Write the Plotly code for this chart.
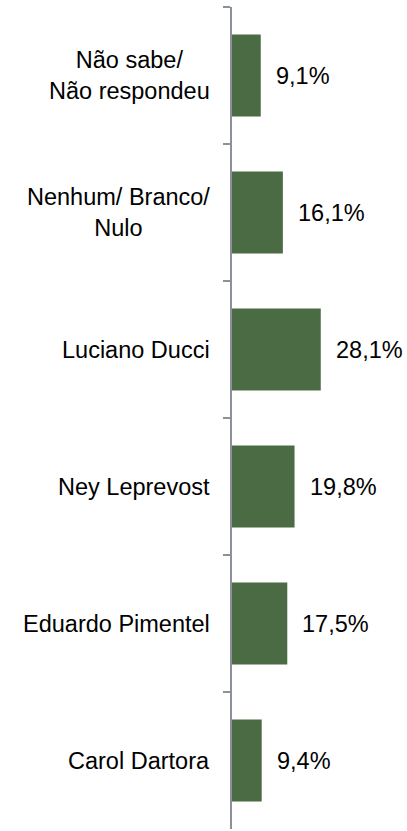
import plotly.graph_objects as go

categories = ["Não sabe/<br>Não respondeu", "Nenhum/ Branco/<br>Nulo", "Luciano Ducci",
              "Ney Leprevost", "Eduardo Pimentel", "Carol Dartora"]
values = [9.1, 16.1, 28.1, 19.8, 17.5, 9.4]
value_labels = [f"{v:.1f}".replace(".", ",") + "%" for v in values]

FONT = "Liberation Sans, Arial, sans-serif"
FS = 23.5

fig = go.Figure()
fig.add_trace(go.Bar(
    x=values, y=categories, orientation="h",
    marker=dict(color="#4b6b45", line=dict(width=0)),
    hoverinfo="skip",
))

for cat, v, lab in zip(categories, values, value_labels):
    fig.add_annotation(x=v, y=cat, xref="x", yref="y", text=lab, showarrow=False,
                       xanchor="left", xshift=13, font=dict(family=FONT, size=FS, color="#000"))
    fig.add_annotation(x=0, y=cat, xref="paper", yref="y", text=cat, showarrow=False,
                       xanchor="right", align="center", xshift=-20,
                       font=dict(family=FONT, size=FS, color="#000"))

fig.update_layout(
    width=407, height=831,
    margin=dict(l=232, r=0, t=7, b=2),
    paper_bgcolor="white", plot_bgcolor="white",
    showlegend=False, bargap=0.4,
    xaxis=dict(range=[0, 55.4], visible=False),
    yaxis=dict(autorange="reversed", showticklabels=False, tickson="boundaries",
               ticks="outside", ticklen=7, tickwidth=2, tickcolor="#8b9198",
               showline=True, linecolor="#8b9198", linewidth=2, showgrid=False,
               zeroline=False),
)

fig.write_html("out.html", config={"displayModeBar": False},
               post_script="document.body.style.margin='0';document.body.style.overflow='hidden';")
